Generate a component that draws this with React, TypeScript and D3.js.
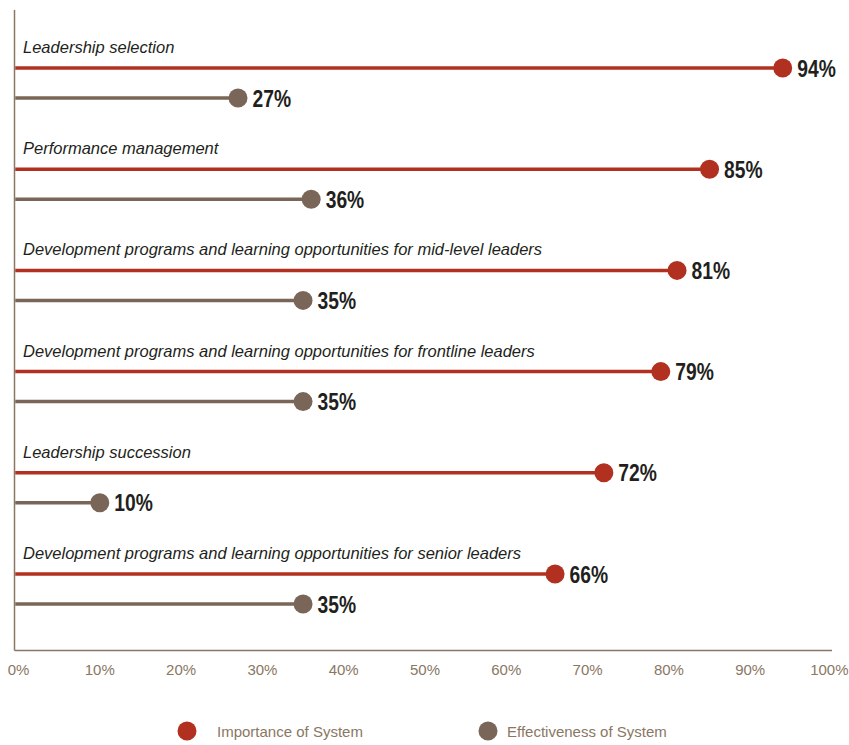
import React from "react";
import * as d3 from "d3";

const categories = [
  "Leadership selection",
  "Performance management",
  "Development programs and learning opportunities for mid-level leaders",
  "Development programs and learning opportunities for frontline leaders",
  "Leadership succession",
  "Development programs and learning opportunities for senior leaders",
];
const importance = [94, 85, 81, 79, 72, 66];
const effectiveness = [27, 36, 35, 35, 10, 35];
const seriesNames = ["Importance of System", "Effectiveness of System"];
const ticks = [0, 10, 20, 30, 40, 50, 60, 70, 80, 90, 100];

const W = 849;
const H = 745;
const RED = "#b2301f";
const GREY = "#7a6658";
const AXIS = "#8a7763";
const TXT = "#231f20";

export default function App() {
  const x = d3.scaleLinear().domain([0, 100]).range([18.5, 831.5]);
  const y = d3.scalePoint<string>().domain(categories).range([68, 574]);
  const axisX = 14.5;
  const axisY = 650.5;
  const r = 9.5;
  const fmt = (v: number) => `${v}%`;
  const series = [
    { name: seriesNames[0], values: importance, color: RED, dy: 0 },
    { name: seriesNames[1], values: effectiveness, color: GREY, dy: 30 },
  ];
  const legendX = [187, 488];

  return (
    <svg
      width={W}
      height={H}
      viewBox={`0 0 ${W} ${H}`}
      style={{ position: "absolute", left: 0, top: 0, background: "#fff" }}
    >
      {/* axes */}
      <line x1={axisX} x2={axisX} y1={10} y2={axisY} stroke={AXIS} strokeWidth={1.5} />
      <line x1={axisX} x2={832} y1={axisY} y2={axisY} stroke={AXIS} strokeWidth={1.5} />
      {ticks.map((t, i) => {
        const last = i === ticks.length - 1;
        return (
          <text
            key={t}
            x={last ? 848.5 : x(t)}
            y={675}
            textAnchor={last ? "end" : "middle"}
            fontFamily="'Liberation Sans', Arial, sans-serif"
            fontSize={15}
            fill={AXIS}
          >
            {fmt(t)}
          </text>
        );
      })}

      {categories.map((c, i) => {
        const yc = y(c) as number;
        return (
          <g key={c}>
            <text
              x={23}
              y={yc - 15}
              fontFamily="'Liberation Sans', Arial, sans-serif"
              fontStyle="italic"
              fontSize={16.5}
              fill={TXT}
            >
              {c}
            </text>
            {series.map((s) => {
              const v = s.values[i];
              const cy = yc + s.dy;
              const tx = x(v) + r + 5;
              return (
                <g key={s.name}>
                  <line
                    x1={axisX + 0.75}
                    x2={x(v)}
                    y1={cy}
                    y2={cy}
                    stroke={s.color}
                    strokeWidth={3.5}
                  />
                  <circle cx={x(v)} cy={cy} r={r} fill={s.color} />
                  <text
                    transform={`translate(${tx},${cy + 8.5}) scale(0.82,1)`}
                    fontFamily="'Liberation Sans', Arial, sans-serif"
                    fontWeight="bold"
                    fontSize={23.5}
                    fill={TXT}
                  >
                    {fmt(v)}
                  </text>
                </g>
              );
            })}
          </g>
        );
      })}

      {/* legend */}
      {series.map((s, i) => (
        <g key={s.name}>
          <circle cx={legendX[i]} cy={731} r={r} fill={s.color} />
          <text
            x={legendX[i] + (i === 0 ? 30 : 19)}
            y={737}
            fontFamily="'Liberation Sans', Arial, sans-serif"
            fontSize={15}
            fill={AXIS}
          >
            {s.name}
          </text>
        </g>
      ))}
    </svg>
  );
}
